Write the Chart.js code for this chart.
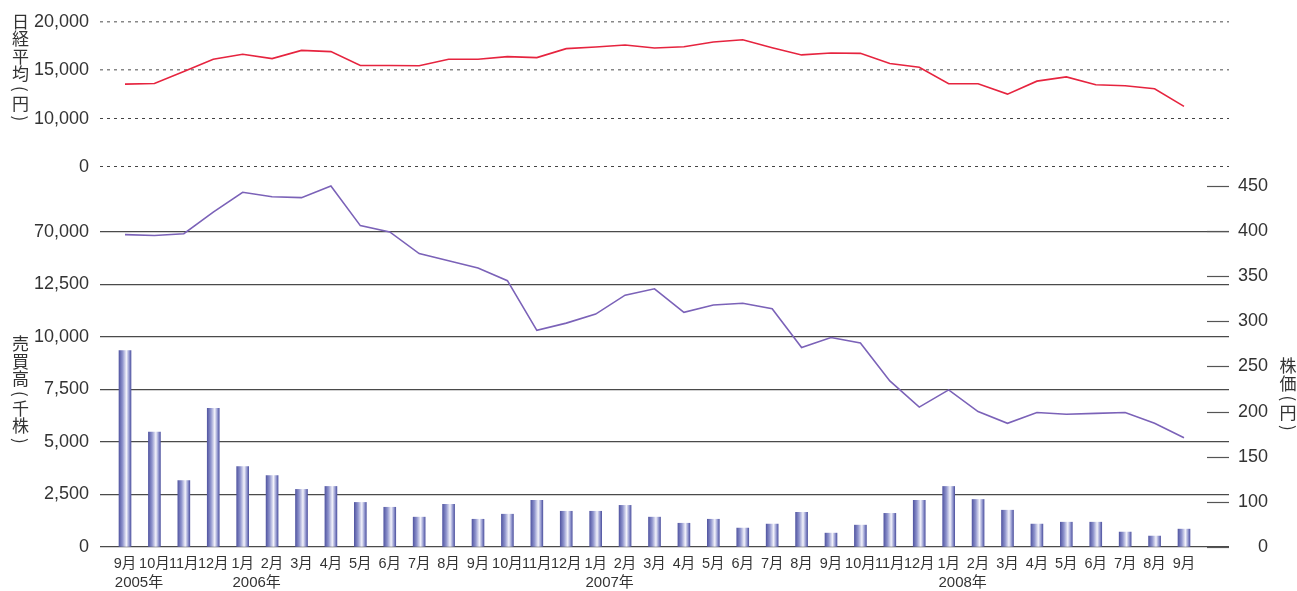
<!DOCTYPE html>
<html lang="ja">
<head>
<meta charset="utf-8">
<title>株価・売買高と日経平均</title>
<script src="https://cdn.jsdelivr.net/npm/chart.js@4.4.1/dist/chart.umd.min.js"></script>
<style>
  html, body { margin: 0; padding: 0; background: #fff; }
  #chart { display: block; }
</style>
</head>
<body>
<canvas id="chart" width="1297" height="591"></canvas>
<script>
// months, Sep 2005 .. Sep 2008
const months = [
  '9月', '10月', '11月', '12月',
  '1月', '2月', '3月', '4月', '5月', '6月', '7月', '8月', '9月', '10月', '11月', '12月',
  '1月', '2月', '3月', '4月', '5月', '6月', '7月', '8月', '9月', '10月', '11月', '12月',
  '1月', '2月', '3月', '4月', '5月', '6月', '7月', '8月', '9月'
];
const yearLabels = [
  { at: 0, text: '2005年' },
  { at: 4, text: '2006年' },
  { at: 16, text: '2007年' },
  { at: 28, text: '2008年' }
];

// 日経平均(円)
const nikkei = [13560, 13630, 14860, 16130, 16640, 16200, 17050, 16920, 15480, 15480, 15460, 16130,
  16130, 16400, 16300, 17230, 17400, 17600, 17300, 17430, 17910, 18150, 17330, 16580, 16780, 16740,
  15690, 15300, 13600, 13600, 12530, 13870, 14310, 13500, 13390, 13080, 11270];
// 売買高(千株)
const volume = [9340, 5470, 3160, 6600, 3820, 3400, 2740, 2880, 2120, 1890, 1420, 2030, 1320, 1560,
  2220, 1700, 1700, 1980, 1420, 1130, 1320, 900, 1090, 1650, 660, 1040, 1600, 2220, 2880, 2260,
  1750, 1090, 1180, 1180, 710, 520, 850];
// 株価(円)
const price = [396, 395, 397, 421, 443, 438, 437, 450, 406, 399, 375, 367, 359, 345, 290, 298, 308,
  329, 336, 310, 318, 320, 314, 271, 282, 276, 234, 205, 224, 200, 187, 199, 197, 198, 199, 187, 171];

// tick values and the labels printed next to them (axes are broken at the bottom)
const nikkeiTicks = [5000, 10000, 15000, 20000];
const nikkeiTickLabels = ['0', '10,000', '15,000', '20,000'];
const volumeTicks = [0, 2500, 5000, 7500, 10000, 12500, 15000];
const volumeTickLabels = ['0', '2,500', '5,000', '7,500', '10,000', '12,500', '70,000'];
const priceTicks = [50, 100, 150, 200, 250, 300, 350, 400, 450];
const priceTickLabels = ['0', '100', '150', '200', '250', '300', '350', '400', '450'];

const nikkeiTitle = '日経平均(円)';
const volumeTitle = '売買高(千株)';
const priceTitle = '株価(円)';

const NUM_FONT = '"Liberation Sans", "Noto Sans CJK JP", sans-serif';
const JP_FONT = '"Noto Sans CJK JP", "Liberation Sans", sans-serif';
Chart.defaults.font.family = NUM_FONT;
Chart.defaults.color = '#333';

function barFill(ctx) {
  const xs = ctx.chart.scales.x;
  if (!xs || ctx.type !== 'data') return '#7a80c0';
  const cx = xs.getPixelForValue(ctx.parsed ? ctx.parsed.x : ctx.dataIndex);
  if (!isFinite(cx)) return '#7a80c0';
  const g = ctx.chart.ctx.createLinearGradient(cx - 6, 0, cx + 6, 0);
  g.addColorStop(0, '#5458a3');
  g.addColorStop(0.3, '#8f94cd');
  g.addColorStop(0.62, '#f3f3fb');
  g.addColorStop(0.85, '#9196ce');
  g.addColorStop(1, '#5458a3');
  return g;
}

// short dashes in front of the price labels
const priceDashes = {
  id: 'priceDashes',
  afterDatasetsDraw(chart) {
    const s = chart.scales.yP;
    const c = chart.ctx;
    c.save();
    c.strokeStyle = '#555';
    c.lineWidth = 1.2;
    s.ticks.forEach(t => {
      const y = Math.round(s.getPixelForValue(t.value)) + 0.5;
      c.beginPath();
      c.moveTo(s.left - 22, y);
      c.lineTo(s.left, y);
      c.stroke();
    });
    c.restore();
  }
};

// vertical axis titles (stacked characters, brackets turned) and the year row
const extraText = {
  id: 'extraText',
  afterDraw(chart) {
    const c = chart.ctx;
    c.save();
    c.fillStyle = '#333';
    c.textAlign = 'center';
    c.textBaseline = 'middle';
    c.font = '17px ' + JP_FONT;
    const isParen = ch => ch === '(' || ch === ')';
    const vertical = (text, x, y) => {
      const chars = Array.from(text);
      chars.forEach((ch, i) => {
        if (isParen(ch)) {
          c.save();
          c.translate(x, y);
          c.rotate(Math.PI / 2);
          c.fillText(ch, 0, 0);
          c.restore();
        } else {
          c.fillText(ch, x, y);
        }
        const next = chars[i + 1];
        y += ((isParen(ch) ? 12 : 17.5) + (isParen(next) ? 12 : 17.5)) / 2;
      });
    };
    vertical(nikkeiTitle, 20.5, 21.5);
    vertical(volumeTitle, 20.5, 344);
    vertical(priceTitle, 1288, 366);

    const xs = chart.scales.x;
    c.font = '15px ' + NUM_FONT;
    yearLabels.forEach(l => {
      c.fillText(l.text, xs.getPixelForValue(l.at) + 14, 583);
    });
    c.restore();
  }
};

const fixedTicks = (values) => (scale) => {
  scale.ticks = values.map(v => ({ value: v }));
};

new Chart(document.getElementById('chart').getContext('2d'), {
  type: 'bar',
  data: {
    datasets: [
      {
        type: 'line',
        data: nikkei.map((v, i) => ({ x: i, y: v })),
        yAxisID: 'yN',
        borderColor: '#e6243f',
        borderWidth: 1.6,
        pointRadius: 0,
        tension: 0,
        fill: false
      },
      {
        type: 'line',
        data: price.map((v, i) => ({ x: i, y: v })),
        yAxisID: 'yP',
        borderColor: '#7b62b8',
        borderWidth: 1.6,
        pointRadius: 0,
        tension: 0,
        fill: false
      },
      {
        type: 'bar',
        data: volume.map((v, i) => ({ x: i, y: v })),
        yAxisID: 'yV',
        backgroundColor: barFill,
        borderWidth: 0,
        barThickness: 12
      }
    ]
  },
  options: {
    responsive: false,
    animation: false,
    layout: { autoPadding: false, padding: { top: 19, left: 0, right: 29, bottom: 0 } },
    plugins: {
      legend: { display: false },
      tooltip: { enabled: false }
    },
    scales: {
      x: {
        type: 'linear',
        offset: false,
        min: -0.85,
        max: 37.53,
        afterBuildTicks: fixedTicks(months.map((m, i) => i)),
        afterFit: s => { s.height = 44; },
        grid: { display: false, drawTicks: false, offset: false },
        border: { display: false },
        ticks: {
          autoSkip: false,
          maxRotation: 0,
          minRotation: 0,
          padding: 8,
          font: { size: 14.5 },
          color: '#333',
          callback: (v, i) => months[i]
        }
      },
      yV: {
        type: 'linear',
        position: 'left',
        stack: 'left',
        stackWeight: 377,
        weight: 0,
        min: 0,
        max: 17839,
        afterBuildTicks: fixedTicks(volumeTicks),
        afterFit: s => { s.width = 100; },
        grid: { color: '#4a4a4a', lineWidth: 1.2, drawTicks: false },
        border: { display: false },
        ticks: {
          padding: 11,
          font: { size: 18 },
          callback: (v, i) => volumeTickLabels[i]
        }
      },
      yN: {
        type: 'linear',
        position: 'left',
        stack: 'left',
        stackWeight: 151,
        weight: 1,
        min: 4486,
        max: 20000,
        afterBuildTicks: fixedTicks(nikkeiTicks),
        afterFit: s => { s.width = 100; },
        grid: {
          color: c => (c.tick && c.tick.value >= 15000 ? '#888' : '#444'),
          lineWidth: c => (c.tick && c.tick.value >= 15000 ? 1.6 : 1.1),
          drawTicks: false
        },
        border: { display: false, dash: [3, 4] },
        ticks: {
          padding: 11,
          font: { size: 18 },
          callback: (v, i) => nikkeiTickLabels[i]
        }
      },
      yP: {
        type: 'linear',
        position: 'right',
        min: 50,
        max: 631.8,
        afterBuildTicks: fixedTicks(priceTicks),
        afterFit: s => { s.width = 39; },
        grid: { display: false, drawTicks: false },
        border: { display: false },
        ticks: {
          padding: 9,
          crossAlign: 'far',
          font: { size: 18 },
          callback: (v, i) => priceTickLabels[i]
        }
      }
    }
  },
  plugins: [priceDashes, extraText]
});
</script>
</body>
</html>
